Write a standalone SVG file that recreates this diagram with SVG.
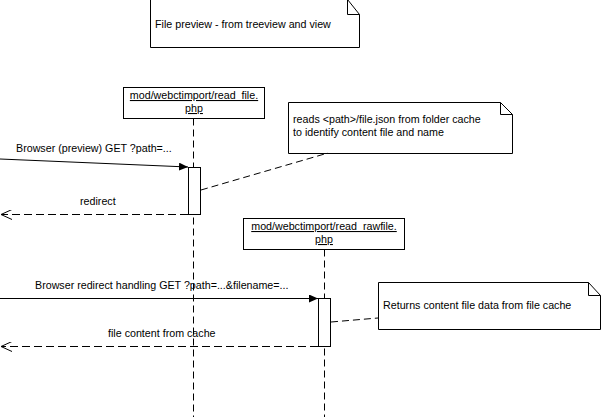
<svg xmlns="http://www.w3.org/2000/svg" width="601" height="417" viewBox="0 0 601 417">
<style>
text{font-family:"Liberation Sans",Arial,sans-serif;font-size:10.7px;fill:#000}
.box{fill:#fff;stroke:#000;stroke-width:1}
.life{stroke:#000;stroke-width:1;stroke-dasharray:7,4;fill:none}
.msg{stroke:#000;stroke-width:1;fill:none}
.ret{stroke:#000;stroke-width:1;stroke-dasharray:8,4;fill:none}
.anchor{stroke:#000;stroke-width:1;stroke-dasharray:7,4;fill:none}
.u{text-decoration:underline}
</style>
<defs>
<marker id="filled" markerWidth="10" markerHeight="8" refX="9" refY="4" orient="auto" markerUnits="userSpaceOnUse">
<path d="M0,0 L9,4 L0,8 z" fill="#000"/>
</marker>
<marker id="open" markerWidth="12" markerHeight="10" refX="11" refY="5" orient="auto" markerUnits="userSpaceOnUse">
<path d="M0,0 L11,5 L0,10" fill="none" stroke="#000" stroke-width="1"/>
</marker>
</defs>
<g id="note-title">
<path class="box" d="M150.5,-0.5 H347.5 L359.5,14.5 V47.5 H150.5 Z"/>
<path class="msg" d="M347.5,-0.5 V14.5 H359.5"/>
<text x="155" y="28">File preview - from treeview and view</text>
</g>
<g id="read_file">
<rect class="box" x="123.5" y="87.5" width="141" height="31"/>
<text class="u" x="194" y="99" text-anchor="middle">mod/webctimport/read_file.</text>
<text class="u" x="194" y="112" text-anchor="middle">php</text>
</g>
<g id="read_rawfile">
<rect class="box" x="243.5" y="218.5" width="161" height="31"/>
<text class="u" x="324" y="230" text-anchor="middle">mod/webctimport/read_rawfile.</text>
<text class="u" x="324" y="243" text-anchor="middle">php</text>
</g>
<g id="note-json">
<path class="box" d="M288.5,102.5 H500.5 L512.5,114.5 V153.5 H288.5 Z"/>
<path class="msg" d="M500.5,102.5 V114.5 H512.5"/>
<text x="293" y="123">reads &lt;path&gt;/file.json from folder cache</text>
<text x="293" y="136">to identify content file and name</text>
</g>
<g id="note-cache">
<path class="box" d="M378.5,282.5 H588.5 L600.5,295.5 V329.5 H378.5 Z"/>
<path class="msg" d="M588.5,282.5 V295.5 H600.5"/>
<text x="383" y="309">Returns content file data from file cache</text>
</g>
<g id="connectors">
<line class="life" x1="193.5" y1="118.5" x2="193.5" y2="417"/>
<line class="life" x1="324.5" y1="249.5" x2="324.5" y2="417"/>
<line class="msg" x1="0" y1="159" x2="188" y2="167" marker-end="url(#filled)"/>
<line class="ret" x1="188" y1="214.5" x2="1" y2="214.5" marker-end="url(#open)"/>
<line class="msg" x1="0" y1="298.5" x2="318" y2="298.5" marker-end="url(#filled)"/>
<line class="ret" x1="318" y1="346.5" x2="1" y2="346.5" marker-end="url(#open)"/>
<line class="anchor" x1="201" y1="190" x2="328" y2="153"/>
<line class="anchor" x1="331" y1="322" x2="378" y2="318"/>
<text x="16" y="152">Browser (preview) GET ?path=...</text>
<text x="80" y="205">redirect</text>
<text x="35" y="289">Browser redirect handling GET ?path=...&amp;filename=...</text>
<text x="108" y="337">file content from cache</text>
</g>
<g id="activations">
<rect class="box" x="188.5" y="167.5" width="12" height="47"/>
<rect class="box" x="318.5" y="298.5" width="12" height="48"/>
</g>
</svg>
